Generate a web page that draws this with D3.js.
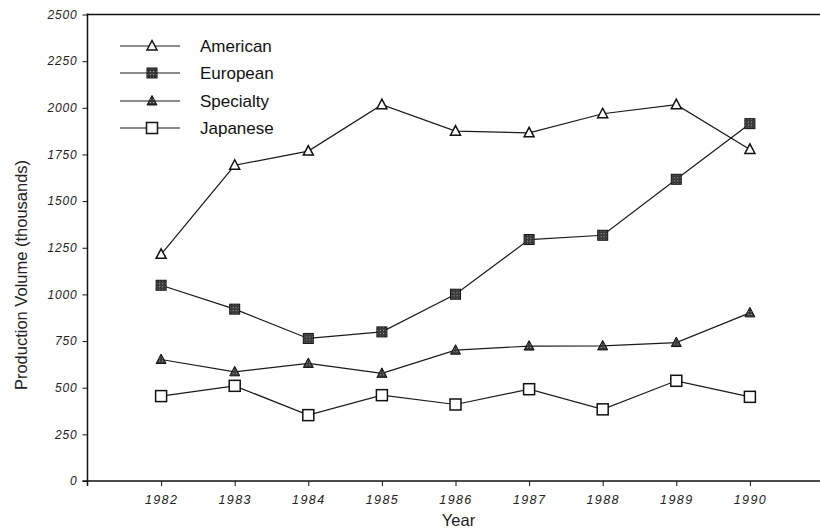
<!DOCTYPE html>
<html><head><meta charset="utf-8">
<script src="https://cdn.jsdelivr.net/npm/d3@7"></script>
<style>
body{margin:0;background:#fff;}
svg{display:block;font-family:"Liberation Sans",Arial,sans-serif;}
</style></head>
<body><svg id="c" width="820" height="530"></svg>
<script>
const years = [1982,1983,1984,1985,1986,1987,1988,1989,1990];
const american = [1215,1692,1768,2017,1875,1866,1968,2017,1777];
const european = [1049,921,764,799,1001,1294,1317,1617,1915];
const specialty = [651,585,630,577,701,723,724,742,901];
const japanese = [455,510,353,460,410,492,384,537,451];
const seriesNames = ["American","European","Specialty","Japanese"];
const yTicks = [0,250,500,750,1000,1250,1500,1750,2000,2250,2500];

const svg = d3.select("#c");
const defs = svg.append("defs");
const pat = defs.append("pattern").attr("id","hatch").attr("patternUnits","userSpaceOnUse")
  .attr("width",3).attr("height",3);
pat.append("rect").attr("width",3).attr("height",3).attr("fill","#3a3a3a");
pat.append("rect").attr("x",1).attr("y",1).attr("width",1).attr("height",1).attr("fill","#aaa");

const x = d3.scaleLinear().domain([1981,1991]).range([87.5,823.5]);
const y = d3.scaleLinear().domain([0,2500]).range([481,14.5]);

const ink = "#111";
// frame
svg.append("line").attr("x1",x(1981)).attr("x2",820).attr("y1",y(2500)).attr("y2",y(2500))
  .attr("stroke",ink).attr("stroke-width",1.3);
svg.append("line").attr("x1",x(1981)).attr("x2",x(1981)).attr("y1",y(2500)-1).attr("y2",y(0)+5)
  .attr("stroke",ink).attr("stroke-width",1.5);
svg.append("line").attr("x1",x(1981)-5).attr("x2",820).attr("y1",y(0)).attr("y2",y(0))
  .attr("stroke",ink).attr("stroke-width",1.5);

// y axis
const ya = svg.append("g").attr("transform",`translate(${x(1981)},0)`)
  .call(d3.axisLeft(y).tickValues(yTicks).tickSize(5).tickPadding(5).tickFormat(d3.format("d")));
ya.select(".domain").remove();
ya.selectAll("line").attr("stroke",ink);
ya.selectAll("text").attr("font-size",12).attr("font-style","italic").attr("fill","#222")
  .attr("letter-spacing",0.8).attr("font-family","'Liberation Sans',Arial,sans-serif");

// x axis
const xa = svg.append("g").attr("transform",`translate(0,${y(0)})`)
  .call(d3.axisBottom(x).tickValues(years).tickSize(5).tickPadding(9).tickFormat(d3.format("d")));
xa.select(".domain").remove();
xa.selectAll("line").attr("stroke",ink);
xa.selectAll("text").attr("font-size",12.5).attr("font-style","italic").attr("fill","#222")
  .attr("letter-spacing",1.4).attr("font-family","'Liberation Sans',Arial,sans-serif");

// titles
svg.append("text").attr("x",x(1986)+3).attr("y",526).attr("text-anchor","middle")
  .attr("font-size",16.5).attr("fill","#222").text("Year");
svg.append("text").attr("transform","translate(27,275) rotate(-90)").attr("text-anchor","middle")
  .attr("font-size",16.5).attr("fill","#222").text("Production Volume (thousands)");

const data = [american,european,specialty,japanese];
const line = d3.line().x((d,i)=>x(years[i])).y(d=>y(d));

function marker(g, type){
  if(type===0){ // open triangle
    g.append("path").attr("d","M0,-5.5L5,4L-5,4Z").attr("fill","#fff").attr("stroke",ink).attr("stroke-width",1.5);
  } else if(type===1){
    g.append("rect").attr("x",-5).attr("y",-5).attr("width",10).attr("height",10)
      .attr("fill","url(#hatch)").attr("stroke",ink).attr("stroke-width",1);
  } else if(type===2){
    g.append("path").attr("d","M0,-5.5L5,4L-5,4Z").attr("fill","url(#hatch)").attr("stroke",ink).attr("stroke-width",1);
  } else {
    g.append("rect").attr("x",-5.5).attr("y",-5.5).attr("width",11).attr("height",11)
      .attr("fill","#fff").attr("stroke",ink).attr("stroke-width",1.5);
  }
}

data.forEach((vals,si)=>{
  svg.append("path").datum(vals).attr("d",line).attr("fill","none")
    .attr("stroke","#1a1a1a").attr("stroke-width",1.2);
  vals.forEach((v,i)=>{
    const g = svg.append("g").attr("transform",`translate(${x(years[i])},${y(v)})`);
    marker(g, si);
  });
});

// legend
const legY = [46,73,101,128];
seriesNames.forEach((name,si)=>{
  const ly = legY[si];
  svg.append("line").attr("x1",120).attr("x2",180).attr("y1",ly).attr("y2",ly)
    .attr("stroke","#1a1a1a").attr("stroke-width",1.2);
  const g = svg.append("g").attr("transform",`translate(152,${ly})`);
  marker(g, si);
  svg.append("text").attr("x",200).attr("y",ly+6).attr("font-size",17).attr("fill","#111").text(name);
});
</script></body></html>
